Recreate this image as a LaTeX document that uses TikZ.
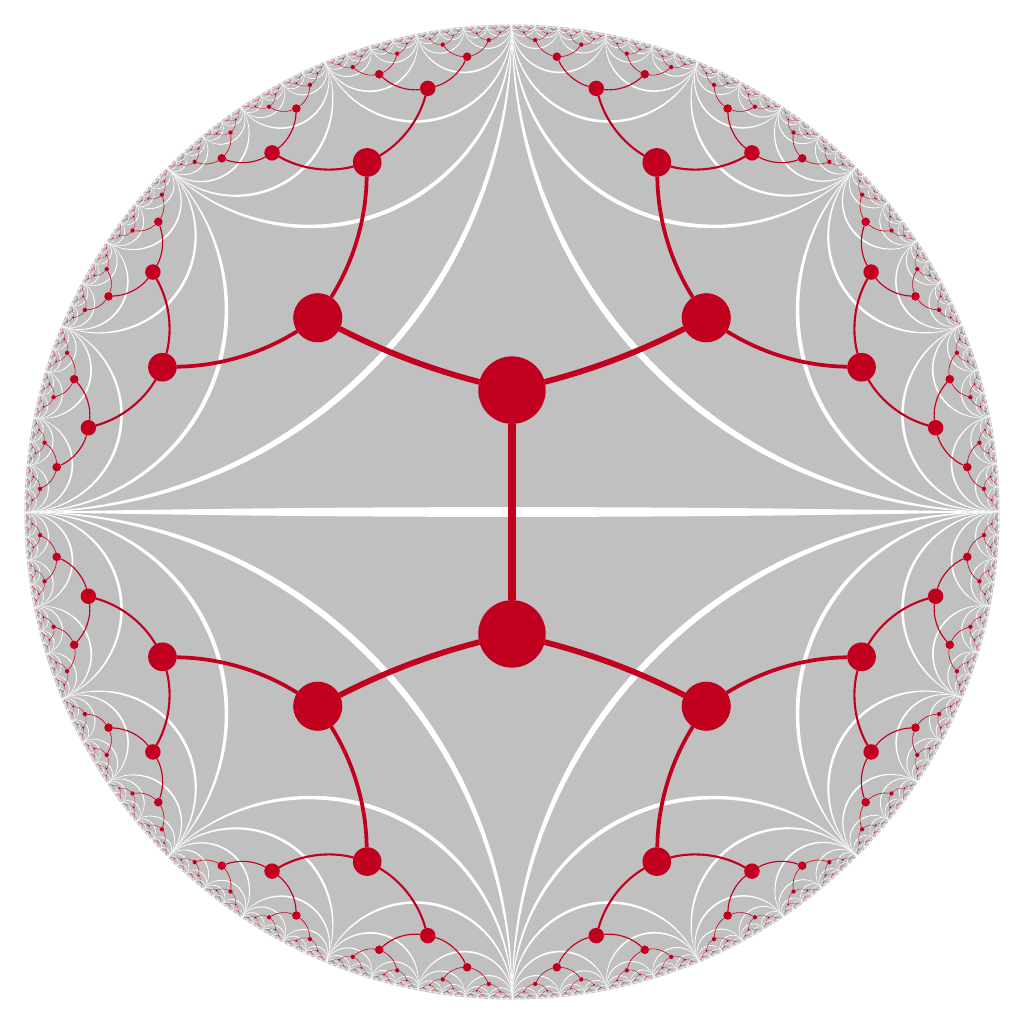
\documentclass[tikz,border=0pt]{standalone}
\definecolor{diskgray}{RGB}{192,192,192}
\definecolor{treered}{RGB}{193,0,32}
\tikzset{
	dot/.style={circle,inner sep=0pt,outer sep=0pt,fill=treered,minimum size=#1},
	link/.style={draw=treered,line width=#1},
	geoline/.style={fill=white}
}
\def\radii{{0.25,0.5635,0.7762,0.886,0.9385,0.9693,0.9846,0.9923,0.9962}}
\def\growdepth{9}

% white geodesic between boundary angles #1 and #2, width #3 px at its middle
\newcommand\geod[3]{%
	\pgfmathsetmacro\wm{(#1+#2)/2}%
	\pgfmathsetmacro\wh{(#2-#1)/2}%
	\pgfmathsetmacro\wk{tan(45-\wh/2)}%
	\pgfmathsetmacro\wc{cos(\wh)}%
	\pgfmathsetmacro\ws{sin(\wh)}%
	\pgfmathsetmacro\weps{#3/975/(1-\wk*\wk)}%
	\pgfmathsetmacro\wxp{(\wk+\weps)/(1+\wk*\weps)}%
	\pgfmathsetmacro\wxm{(\wk-\weps)/(1-\wk*\weps)}%
	\pgfmathsetmacro\wcp{(1-\wxp*\wxp)/(2*(\wc-\wxp))}%
	\pgfmathsetmacro\wcm{(1-\wxm*\wxm)/(2*(\wc-\wxm))}%
	\pgfmathsetmacro\wrp{\wcp-\wxp}%
	\pgfmathsetmacro\wrm{\wcm-\wxm}%
	\pgfmathsetmacro\wtp{atan2(\ws,\wcp-\wc)}%
	\pgfmathsetmacro\wtm{atan2(\ws,\wcm-\wc)}%
	\pgfmathsetmacro\wsa{\wm+180+\wtp}%
	\pgfmathsetmacro\wea{\wm+180-\wtp}%
	\pgfmathsetmacro\wsb{\wm+180-\wtm}%
	\pgfmathsetmacro\web{\wm+180+\wtm}%
	\fill[geoline] (#1:1) arc[start angle=\wsa,end angle=\wea,radius=\wrp]
		arc[start angle=\wsb,end angle=\web,radius=\wrm] -- cycle;%
}

% #1 parent, #2 name, #3 #4 boundary angles, #5 depth, #6 #7 parent position
\newcommand\grow[7]{%
\begingroup
	\pgfmathsetmacro\gw{10*0.64^(#5-1)}%
	\geod{#3}{#4}{\gw}%
	\pgfmathsetmacro\gm{(#3+#4)/2}%
	\pgfmathsetmacro\gt{\radii[#5-1]}%
	\pgfmathsetmacro\gx{\gt*cos(\gm)}%
	\pgfmathsetmacro\gy{\gt*sin(\gm)}%
	\pgfmathsetmacro\gsz{0.72*(1-\gt*\gt)}%
	\node[dot=\gsz cm] (#2) at (\gx,\gy) {};%
	\pgfmathsetmacro\glw{0.072*sqrt((1-(#6)*(#6)-(#7)*(#7))*(1-\gt*\gt))}%
	\pgfmathsetmacro\gb{atan2((#6)*(\gy)-(#7)*(\gx),1-(#6)*(\gx)-(#7)*(\gy))}%
	\draw[link=\glw cm] (#1) to[bend left=\gb,looseness=0.86] (#2);%
	\ifnum#5<\growdepth\relax
		\edef\gnext{\noexpand\grow{#2}{#20}{#3}{\gm}{\the\numexpr#5+1\relax}{\gx}{\gy}%
			\noexpand\grow{#2}{#21}{\gm}{#4}{\the\numexpr#5+1\relax}{\gx}{\gy}}%
		\gnext
	\fi
\endgroup}

\begin{document}
\begin{tikzpicture}[scale=4.875]
	\useasboundingbox (-1.050256,-1.050256) rectangle (1.050256,1.050256);
	\fill[diskgray] (0,0) circle[radius=1];
	\pgfmathsetmacro\de{10/975}
	\pgfmathsetmacro\dc{(1-\de*\de)/(2*\de)}
	\pgfmathsetmacro\dr{\dc+\de}
	\pgfmathsetmacro\dphi{atan2(\dc,1)}
	\pgfmathsetmacro\dea{180-\dphi}
	\pgfmathsetmacro\dsb{180+\dphi}
	\pgfmathsetmacro\deb{360-\dphi}
	\fill[geoline] (1,0) arc[start angle=\dphi,end angle=\dea,radius=\dr]
		arc[start angle=\dsb,end angle=\deb,radius=\dr] -- cycle;
	\node[dot=0.675cm] (u) at (0,0.25) {};
	\node[dot=0.675cm] (d) at (0,-0.25) {};
	\draw[link=0.072cm] (u) -- (d);
	\grow{u}{u0}{0}{90}{2}{0}{0.25}
	\grow{u}{u1}{90}{180}{2}{0}{0.25}
	\grow{d}{d0}{180}{270}{2}{0}{-0.25}
	\grow{d}{d1}{270}{360}{2}{0}{-0.25}
\end{tikzpicture}
\end{document}
